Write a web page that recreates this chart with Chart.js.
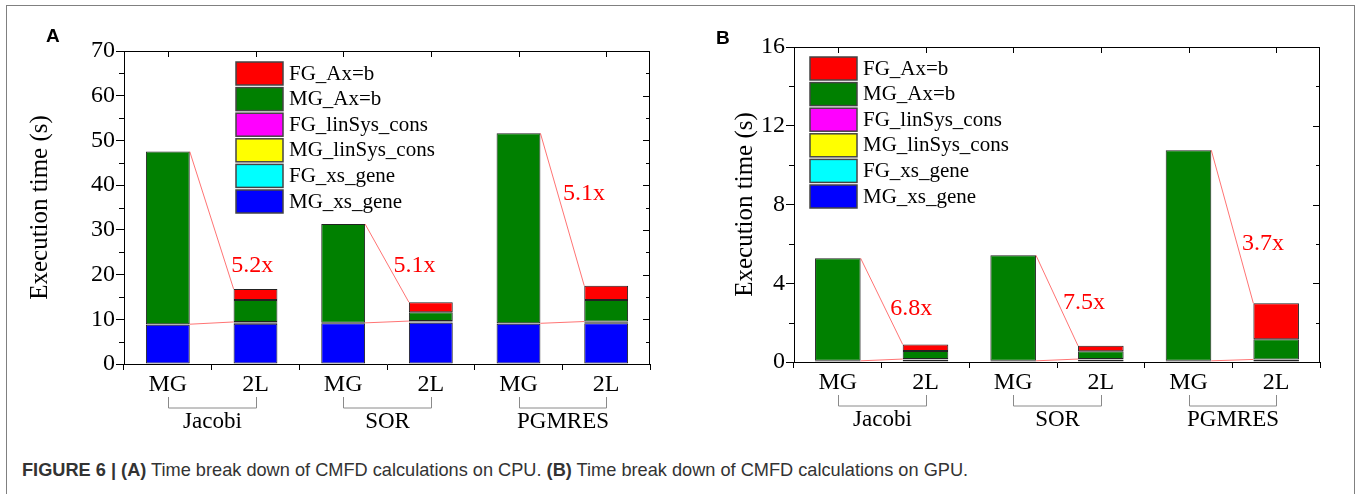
<!DOCTYPE html>
<html lang="en">
<head>
<meta charset="UTF-8">
<title>CMFD time break down</title>
<script src="https://cdn.jsdelivr.net/npm/chart.js"></script>
<style>
  html, body { margin: 0; padding: 0; background: #fff; }
  body { width: 1357px; height: 494px; position: relative; overflow: hidden; }
  #frame { position: absolute; left: 6px; top: 5px; width: 1349px; height: 520px; border: 1.5px solid #808080; box-sizing: border-box; }
  canvas { position: absolute; top: 0; }
  #chartA { left: 0; }
  #chartB { left: 680px; }
  .tag { position: absolute; font: bold 19px "Liberation Sans", Arial, sans-serif; color: #000; }
  #caption { position: absolute; left: 22px; top: 460px; font: 18.2px "Liberation Sans", Arial, sans-serif; color: #333; white-space: nowrap; }
  #warm { position: absolute; left: -999px; font: 22px "Liberation Serif"; }
</style>
</head>
<body>
<div id="frame"></div>
<div id="warm">Execution time 0123456789</div>
<canvas id="chartA" width="680" height="445"></canvas>
<canvas id="chartB" width="677" height="445"></canvas>
<div class="tag" style="left:46px; top:25px;">A</div>
<div class="tag" style="left:716px; top:27px;">B</div>
<div id="caption"><b>FIGURE 6 | (A)</b> Time break down of CMFD calculations on CPU. <b>(B)</b> Time break down of CMFD calculations on GPU.</div>

<script>
// categories and groups
const categories = ['MG', '2L', 'MG', '2L', 'MG', '2L'];
const groups = ['Jacobi', 'SOR', 'PGMRES'];
// series, bottom of the stack first
const seriesNames = ['MG_xs_gene', 'FG_xs_gene', 'MG_linSys_cons', 'FG_linSys_cons', 'MG_Ax=b', 'FG_Ax=b'];
const seriesColors = ['#0000ff', '#00ffff', '#ffff00', '#ff00ff', '#008000', '#ff0000'];

// (A) CPU, seconds
const cpuMGxs  = [8.8, 9.0, 9.1, 9.2, 9.0, 9.1];
const cpuFGxs  = [null, 0.3, null, 0.1, null, 0.1];
const cpuMGlin = [0.1, 0.1, 0.1, 0.2, 0.1, 0.2];
const cpuFGlin = [null, null, null, 0.1, null, 0.1];
const cpuMGax  = [38.6, 4.9, 22.1, 2.0, 42.5, 4.8];
const cpuFGax  = [null, 2.5, null, 2.2, null, 3.2];
const cpuTicks = [0, 10, 20, 30, 40, 50, 60, 70];
const cpuSpeedup  = ['5.2x', '5.1x', '5.1x'];
const cpuSpeedupY = [22, 22, 38];

// (B) GPU, seconds
const gpuMGxs  = [0.05, 0.12, 0.05, 0.12, 0.05, 0.10];
const gpuFGxs  = [null, 0.01, null, 0.01, null, 0.01];
const gpuMGlin = [0.01, 0.01, 0.01, 0.01, 0.01, 0.01];
const gpuFGlin = [null, 0.01, null, 0.01, null, 0.01];
const gpuMGax  = [5.21, 0.41, 5.36, 0.40, 10.70, 1.03];
const gpuFGax  = [null, 0.33, null, 0.27, null, 1.82];
const gpuTicks = [0, 4, 8, 12, 16];
const gpuSpeedup  = ['6.8x', '7.5x', '3.7x'];
const gpuSpeedupY = [2.7, 3.0, 6.0];

const SERIF = '"Liberation Serif", "Times New Roman", serif';

function line(ctx, x1, y1, x2, y2) {
  ctx.beginPath();
  ctx.moveTo(x1, y1);
  ctx.lineTo(x2, y2);
  ctx.stroke();
}

// frame, extra ticks, legend, speed-up marks and group brackets
const decor = {
  id: 'decor',
  afterDatasetsDraw(chart, args, o) {
    const ctx = chart.ctx;
    const ys = chart.scales.y;
    const sets = chart.data.datasets;
    const tot = k => sets.reduce((s, d) => s + (d.data[k] || 0), 0);
    const low = k => sets.slice(0, 4).reduce((s, d) => s + (d.data[k] || 0), 0);
    const meta = chart.getDatasetMeta(0);
    ctx.save();
    for (let g = 0; g < o.speedup.length; g++) {
      const a = meta.data[2 * g], b = meta.data[2 * g + 1];
      const xr = a.x + a.width / 2, xl = b.x - b.width / 2;
      const y1 = ys.getPixelForValue(tot(2 * g)), y2 = ys.getPixelForValue(tot(2 * g + 1));
      ctx.strokeStyle = 'rgba(255,0,0,0.55)';
      ctx.lineWidth = 1;
      line(ctx, xr, y1, xl, y2);
      line(ctx, xr, ys.getPixelForValue(low(2 * g)), xl, ys.getPixelForValue(low(2 * g + 1)));
      const yl = ys.getPixelForValue(o.speedupY[g]);
      const xline = xr + (yl - y1) / (y2 - y1) * (xl - xr);
      ctx.fillStyle = '#ff0000';
      ctx.font = '24px ' + SERIF;
      ctx.textAlign = 'left';
      ctx.textBaseline = 'middle';
      ctx.fillText(o.speedup[g], xline + 5, yl);
    }
    ctx.restore();
  },
  afterDraw(chart, args, o) {
    const ctx = chart.ctx, a = chart.chartArea;
    const xs = chart.scales.x, ys = chart.scales.y;
    ctx.save();
    ctx.strokeStyle = '#000';
    ctx.lineWidth = 1;
    // top and right axis lines
    line(ctx, a.left, a.top + 0.5, a.right, a.top + 0.5);
    line(ctx, a.right - 0.5, a.top, a.right - 0.5, a.bottom);
    // minor ticks and right-side ticks
    const step = o.ticks[1] - o.ticks[0];
    for (let v = 0; v <= o.ticks[o.ticks.length - 1]; v += step / 2) {
      const y = Math.round(ys.getPixelForValue(v)) + 0.5;
      const major = o.ticks.includes(v);
      if (!major) line(ctx, a.left, y, a.left - 5, y);
      line(ctx, a.right, y, a.right - (major ? 7 : 4), y);
    }
    // top ticks at category centres
    categories.forEach((c, i) => {
      const x = Math.round(xs.getPixelForValue(i)) + 0.5;
      line(ctx, x, a.top, x, a.top + 6);
    });
    // legend
    ctx.font = '21px ' + SERIF;
    ctx.textAlign = 'left';
    ctx.textBaseline = 'middle';
    for (let r = 0; r < seriesNames.length; r++) {
      const k = seriesNames.length - 1 - r;
      const x = a.left + o.legendX, y = a.top + o.legendY + r * 25.6;
      ctx.fillStyle = seriesColors[k];
      ctx.fillRect(x, y, 47, 23);
      ctx.strokeStyle = '#444';
      ctx.lineWidth = 1.5;
      ctx.strokeRect(x, y, 47, 23);
      ctx.fillStyle = '#000';
      ctx.fillText(seriesNames[k], x + 53, y + 12);
    }
    // group brackets
    ctx.strokeStyle = '#8a8a8a';
    ctx.lineWidth = 1;
    ctx.font = '23px ' + SERIF;
    ctx.textAlign = 'center';
    groups.forEach((name, g) => {
      const x1 = Math.round(xs.getPixelForValue(2 * g)) + 0.5;
      const x2 = Math.round(xs.getPixelForValue(2 * g + 1)) + 0.5;
      const yb = a.bottom + 44;
      ctx.beginPath();
      ctx.moveTo(x1, a.bottom + 33);
      ctx.lineTo(x1, yb);
      ctx.lineTo(x2, yb);
      ctx.lineTo(x2, a.bottom + 33);
      ctx.stroke();
      ctx.fillStyle = '#000';
      ctx.fillText(name, (x1 + x2) / 2, a.bottom + 58);
    });
    ctx.restore();
  }
};

function makeChart(id, series, ticks, yMax, speedup, speedupY, box) {
  const datasets = series.map((d, i) => ({
    label: seriesNames[i],
    data: d,
    backgroundColor: seriesColors[i],
    borderColor: '#222',
    borderWidth: 1,
    borderSkipped: false,
    categoryPercentage: 1,
    barPercentage: box.barPct
  }));
  return new Chart(document.getElementById(id), {
    type: 'bar',
    data: { labels: categories, datasets: datasets },
    plugins: [decor],
    options: {
      responsive: false,
      animation: false,
      layout: { padding: { left: 0, top: box.top, right: box.right, bottom: 0 } },
      plugins: {
        legend: { display: false },
        tooltip: { enabled: false },
        decor: { ticks: ticks, speedup: speedup, speedupY: speedupY, legendX: box.legendX, legendY: box.legendY }
      },
      scales: {
        x: {
          stacked: true,
          offset: true,
          grid: { offset: true, drawOnChartArea: false, tickLength: 6, color: '#000' },
          border: { display: true, color: '#000', width: 1 },
          ticks: { color: '#000', font: { family: SERIF, size: 24 }, padding: 0, maxRotation: 0, autoSkip: false },
          afterFit: s => { s.height = box.xh; s.paddingLeft = 0; s.paddingRight = 0; }
        },
        y: {
          stacked: true,
          min: 0,
          max: yMax,
          afterBuildTicks: s => { s.ticks = ticks.map(v => ({ value: v })); },
          grid: { drawOnChartArea: false, tickLength: 8, color: '#000' },
          border: { display: true, color: '#000', width: 1 },
          ticks: { color: '#000', font: { family: SERIF, size: 24 }, padding: 1 },
          title: { display: true, text: 'Execution time (s)', color: '#000', font: { family: SERIF, size: 25 }, padding: { top: box.titlePad, bottom: 0 } },
          afterFit: s => { s.width = box.yw; s.paddingTop = 0; s.paddingBottom = 0; }
        }
      }
    }
  });
}

function drawAll() {
  makeChart('chartA', [cpuMGxs, cpuFGxs, cpuMGlin, cpuFGlin, cpuMGax, cpuFGax], cpuTicks, 70, cpuSpeedup, cpuSpeedupY,
    { top: 51, right: 30, xh: 81, yw: 124, titlePad: 25, legendX: 112, legendY: 11, barPct: 0.5 });
  makeChart('chartB', [gpuMGxs, gpuFGxs, gpuMGlin, gpuFGlin, gpuMGax, gpuFGax], gpuTicks, 16, gpuSpeedup, gpuSpeedupY,
    { top: 47, right: 37, xh: 83, yw: 114, titlePad: 50, legendX: 16, legendY: 10, barPct: 0.52 });
}

// make sure the serif face is ready before the canvases are drawn
document.fonts.load('22px "Liberation Serif"').then(drawAll, drawAll);
</script>
</body>
</html>
